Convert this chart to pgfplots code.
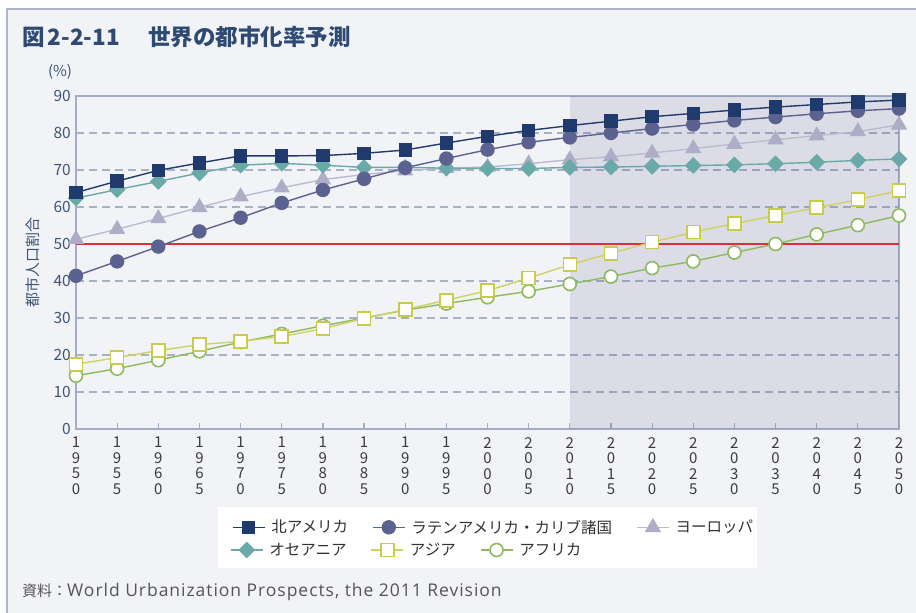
\documentclass[border=0pt]{standalone}
\usepackage{pgfplots}
\usepackage{pgfplotstable}
\pgfplotsset{compat=1.18}
\usepackage{fontspec}
\setmainfont{Noto Sans CJK JP}
\newfontfamily\latinsrc{Open Sans}[LetterSpace=5.5]
\definecolor{framebg}{HTML}{F2F3F6}
\definecolor{frameline}{HTML}{AAB5CA}
\definecolor{titlec}{HTML}{2F4A72}
\definecolor{axisc}{HTML}{A3AEC5}
\definecolor{gridc}{HTML}{A8B2C6}
\definecolor{ytickc}{HTML}{3D5577}
\definecolor{xtickc}{HTML}{3A3A3A}
\definecolor{shadec}{RGB}{60,60,110}
\definecolor{redc}{HTML}{D9303A}
\definecolor{nac}{HTML}{1F3B6E}
\definecolor{lac}{HTML}{5C6290}
\definecolor{euc}{HTML}{AEACC6}
\definecolor{euline}{HTML}{BCBAD0}
\definecolor{occ}{HTML}{69AAA8}
\definecolor{asc}{HTML}{C8CB4C}
\definecolor{asline}{HTML}{CFD262}
\definecolor{afc}{HTML}{8DBA5F}
\definecolor{srcc}{HTML}{555555}

\pgfplotstableread{
year na la eu oc as af
1950 63.9 41.4 51.3 62.4 17.5 14.4
1955 67.0 45.3 54.0 64.7 19.3 16.3
1960 69.9 49.3 56.9 66.9 21.2 18.6
1965 71.9 53.4 59.9 69.2 22.8 21.0
1970 73.8 57.1 62.8 71.3 23.7 23.5
1975 73.8 61.1 65.2 71.8 25.0 25.7
1980 73.9 64.6 67.4 71.3 27.1 27.9
1985 74.5 67.6 68.8 70.7 29.9 30.0
1990 75.4 70.6 69.8 70.7 32.3 32.1
1995 77.3 73.1 70.5 70.5 34.8 33.9
2000 79.1 75.5 70.8 70.4 37.4 35.6
2005 80.7 77.5 71.7 70.4 40.8 37.2
2010 82.0 78.8 72.8 70.7 44.4 39.2
2015 83.2 80.0 73.6 70.8 47.5 41.2
2020 84.4 81.2 74.6 71.0 50.5 43.5
2025 85.3 82.3 75.8 71.2 53.2 45.3
2030 86.2 83.4 77.0 71.4 55.5 47.7
2035 87.0 84.3 78.2 71.7 57.7 50.0
2040 87.7 85.2 79.3 72.1 59.8 52.6
2045 88.4 86.0 80.4 72.6 62.0 55.1
2050 88.9 86.6 82.2 73.0 64.4 57.7
}\data

\pgfplotsset{
  nastyle/.style={color=nac, line width=1.4pt, mark=square*, mark size=6pt, mark options={solid, fill=nac}},
  lastyle/.style={color=lac, line width=1.4pt, mark=*, mark size=6.5pt, mark options={solid, fill=lac, draw=lac}},
  eustyle/.style={color=euline, line width=1.4pt, mark=triangle*, mark size=8pt, mark options={solid, fill=euc, draw=euc}},
  ocstyle/.style={color=occ, line width=1.4pt, mark=square*, mark size=5.2pt, mark options={solid, fill=occ, rotate=45}},
  asstyle/.style={color=asline, line width=1.4pt, mark=square*, mark size=6.5pt, mark options={solid, fill=white, draw=asc, line width=1.6pt}},
  afstyle/.style={color=afc, line width=1.4pt, mark=*, mark size=6.5pt, mark options={solid, fill=white, draw=afc, line width=1.6pt}},
  mylegend/.style={
    legend columns=3,
    legend cell align=left,
    legend style={draw=none, fill=none, inner sep=0pt, outer sep=0pt, anchor=west,
      font=\fontsize{15.5}{17}\selectfont, text=black!80,
      nodes={inner sep=0pt},
      /tikz/every odd column/.append style={column sep=6pt},
      /tikz/every even column/.append style={column sep=24pt}},
    legend image code/.code={\draw[mark repeat=2, mark phase=2, ##1] plot coordinates {(0pt,0pt)(16pt,0pt)(32pt,0pt)};},
  },
}

\begin{document}
\begin{tikzpicture}
\begin{scope}[x=1pt,y=-1pt]
\useasboundingbox (0,0) rectangle (916,613);
\fill[white] (0,0) rectangle (916,613);
\filldraw[fill=framebg, draw=frameline, line width=1.5pt] (7,9) rectangle (935,640);
\node[anchor=base west, text=titlec, font=\fontsize{22.5}{24}\selectfont\bfseries, inner sep=0pt] at (22,45.5) {図\hspace{3pt}2-2-11\hspace{6pt}　世界の都市化率予測};
\node[text=ytickc, font=\fontsize{15}{16}\selectfont, inner sep=0pt] at (60,72) {(\%)};
\node[text=ytickc, font=\fontsize{15}{16}\selectfont, inner sep=0pt, rotate=90] at (33,262) {都市人口割合};
\fill[white] (218,507) rectangle (757,568);
\node[anchor=west, text=srcc, font=\fontsize{15}{18}\selectfont, inner sep=0pt] at (22,592) {資料：{\latinsrc\fontsize{17.5}{18}\selectfont World Urbanization Prospects, the 2011 Revision}};
\end{scope}

\begin{axis}[
  at={(76pt,-429pt)}, anchor=south west,
  scale only axis, width=823pt, height=333pt,
  xmin=1950, xmax=2050, ymin=0, ymax=90,
  axis line style={draw=axisc, line width=1.5pt},
  xtick={1950,1955,...,2050},
  xticklabels={{1\\9\\5\\0},{1\\9\\5\\5},{1\\9\\6\\0},{1\\9\\6\\5},{1\\9\\7\\0},{1\\9\\7\\5},{1\\9\\8\\0},{1\\9\\8\\5},{1\\9\\9\\0},{1\\9\\9\\5},{2\\0\\0\\0},{2\\0\\0\\5},{2\\0\\1\\0},{2\\0\\1\\5},{2\\0\\2\\0},{2\\0\\2\\5},{2\\0\\3\\0},{2\\0\\3\\5},{2\\0\\4\\0},{2\\0\\4\\5},{2\\0\\5\\0}},
  xticklabel style={align=center, font=\fontsize{15}{15.5}\selectfont, text=xtickc, inner sep=0pt, yshift=-8pt},
  xtick pos=lower, xtick align=inside,
  major tick length=6pt,
  xtick style={draw=axisc, line width=1.2pt},
  ytick={0,10,...,90},
  ytick style={draw=none},
  yticklabel style={font=\fontsize{15.5}{16}\selectfont, text=ytickc, inner sep=0pt, xshift=-5pt},
  /pgf/number format/assume math mode=true,
  ymajorgrids,
  grid style={draw=gridc, line width=1.3pt, dash pattern=on 8pt off 5pt},
  clip=false,
  mylegend,
  legend style={at={(rel axis cs:0.1895,-0.2943)}},
]
\addlegendimage{nastyle}\addlegendentry{北アメリカ}
\addlegendimage{lastyle}\addlegendentry{ラテンアメリカ・カリブ諸国}
\addlegendimage{eustyle}\addlegendentry{ヨーロッパ}
\addplot[fill=shadec, fill opacity=0.123, draw=none, forget plot] coordinates {(2010,0)(2010,90)(2050,90)(2050,0)} -- cycle;
\addplot[color=redc, line width=2pt, forget plot] coordinates {(1950,50)(2050,50)};
\addplot[afstyle, forget plot] table[x=year, y=af] {\data};
\addplot[asstyle, forget plot] table[x=year, y=as] {\data};
\addplot[eustyle, forget plot] table[x=year, y=eu] {\data};
\addplot[ocstyle, forget plot] table[x=year, y=oc] {\data};
\addplot[lastyle, forget plot] table[x=year, y=la] {\data};
\addplot[nastyle, forget plot] table[x=year, y=na] {\data};
\end{axis}

\begin{axis}[
  at={(76pt,-429pt)}, anchor=south west,
  scale only axis, width=823pt, height=333pt,
  xmin=0, xmax=1, ymin=0, ymax=1,
  hide axis,
  mylegend,
  legend style={at={(rel axis cs:0.1871,-0.3634)}},
]
\addlegendimage{ocstyle}\addlegendentry{オセアニア}
\addlegendimage{asstyle}\addlegendentry{アジア}
\addlegendimage{afstyle}\addlegendentry{アフリカ}
\end{axis}
\end{tikzpicture}
\end{document}
